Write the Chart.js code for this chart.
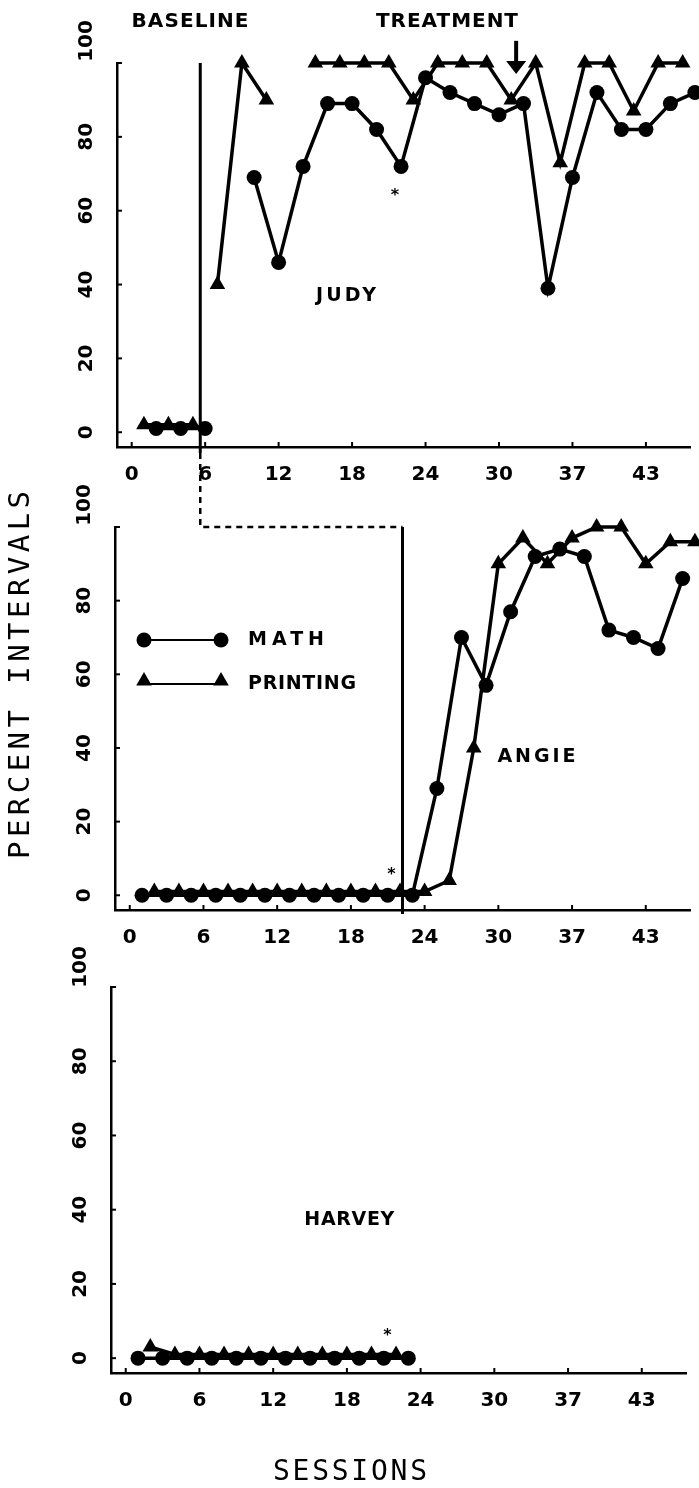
<!DOCTYPE html>
<html><head><meta charset="utf-8">
<script src="https://cdn.jsdelivr.net/npm/chart.js@4"></script>
<style>
html,body{margin:0;padding:0;background:#fff;}
#wrap{position:relative;width:699px;height:1488px;background:#fff;overflow:hidden;}
canvas{position:absolute;left:0;top:0;}
</style></head><body>
<div id="wrap">
<canvas id="c1" width="699" height="1488"></canvas>
<canvas id="c2" width="699" height="1488"></canvas>
<canvas id="c3" width="699" height="1488"></canvas>
</div>
<script>
// ---------- data ----------
const xTickValues = [0, 6, 12, 18, 24, 30, 36, 42];
const xTickLabels = ["0", "6", "12", "18", "24", "30", "37", "43"];
const yTickValues = [0, 20, 40, 60, 80, 100];
const yTickLabels = ["0", "20", "40", "60", "80", "100"];

// JUDY
const judyMathSessions = [2, 4, 6, 8, 10, 12, 14, 16, 18, 20, 22, 24, 26, 28, 30, 32, 34, 36, 38, 40, 42, 44, 46];
const judyMathValues   = [1, 1, 1, null, 69, 46, 72, 89, 89, 82, 72, 96, 92, 89, 86, 89, 39, 69, 92, 82, 82, 89, 92];
const judyPrintSessions = [1, 3, 5, 6, 7, 9, 11, 13, 15, 17, 19, 21, 23, 25, 27, 29, 31, 33, 35, 37, 39, 41, 43, 45];
const judyPrintValues   = [2, 2, 2, null, 40, 100, 90, null, 100, 100, 100, 100, 90, 100, 100, 100, 90, 100, 73, 100, 100, 87, 100, 100];

// ANGIE
const angieMathSessions = [1, 3, 5, 7, 9, 11, 13, 15, 17, 19, 21, 23, 25, 27, 29, 31, 33, 35, 37, 39, 41, 43, 45];
const angieMathValues   = [0, 0, 0, 0, 0, 0, 0, 0, 0, 0, 0, 0, 29, 70, 57, 77, 92, 94, 92, 72, 70, 67, 86];
const angiePrintSessions = [2, 4, 6, 8, 10, 12, 14, 16, 18, 20, 22, 24, 26, 28, 30, 32, 34, 36, 38, 40, 42, 44, 46];
const angiePrintValues   = [1, 1, 1, 1, 1, 1, 1, 1, 1, 1, 1, 1, 4, 40, 90, 97, 90, 97, 100, 100, 90, 96, 96];

// HARVEY
const harveyMathSessions = [1, 3, 5, 7, 9, 11, 13, 15, 17, 19, 21, 23];
const harveyMathValues   = [0, 0, 0, 0, 0, 0, 0, 0, 0, 0, 0, 0];
const harveyPrintSessions = [2, 4, 6, 8, 10, 12, 14, 16, 18, 20, 22];
const harveyPrintValues   = [3, 1, 1, 1, 1, 1, 1, 1, 1, 1, 1];

// phase changes and marks
const judyPhaseSession = 5.6;
const angiePhaseSession = 22.2;
const asteriskJudy = [21.5, 64];
const asteriskAngie = [21.3, 5.5];
const asteriskHarvey = [21.3, 6];
const arrowJudy = [31.4, 106, 97];

// ---------- layout ----------
const W = 699, H = 1488;
const X_MIN = -1.2, X_MAX = 45.6, Y_MIN = -4, Y_MAX = 100;
const panels = [
  {id: 'c1', top: 63, bottom: 447, left: 117, right: 692},
  {id: 'c2', top: 527, bottom: 910, left: 115, right: 690},
  {id: 'c3', top: 987, bottom: 1373, left: 111, right: 686}
];
const TICK_FONT = 'bold 20px "DejaVu Sans"';
const LABEL_FONT = 'bold 19px "DejaVu Sans"';
const TITLE_FONT = 'bold 20px "DejaVu Sans"';

function pts(s, v) { return s.map((x, i) => ({x: x, y: v[i]})); }
function mathDS(s, v) {
  return {label: 'MATH', data: pts(s, v), borderColor: '#000', backgroundColor: '#000',
    borderWidth: 3.5, pointStyle: 'circle', pointRadius: 7.5, pointBorderWidth: 0,
    tension: 0, spanGaps: false, clip: false};
}
function printDS(s, v) {
  return {label: 'PRINTING', data: pts(s, v), borderColor: '#000', backgroundColor: '#000',
    borderWidth: 3.5, pointStyle: 'triangle', pointRadius: 9, pointBorderWidth: 0,
    tension: 0, spanGaps: false, clip: false};
}

function fitText(ctx, text, x, y, targetW, font, anchor, rot) {
  ctx.save();
  ctx.font = font; ctx.fillStyle = '#000'; ctx.textBaseline = 'middle'; ctx.textAlign = 'left';
  const n = text.length;
  const w0 = ctx.measureText(text).width;
  let sp = n > 1 ? (targetW - w0) / (n - 1) : 0;
  ctx.translate(x, y);
  if (rot) ctx.rotate(rot);
  let sx = 1;
  if (sp < 0) { sx = targetW / w0; sp = 0; }
  if ('letterSpacing' in ctx) ctx.letterSpacing = sp + 'px';
  const start = anchor === 'center' ? -targetW / 2 : 0;
  ctx.scale(sx, 1);
  ctx.fillText(text, start / sx, 0);
  ctx.restore();
}

function drawAxesDeco(chart, yShift100) {
  const ctx = chart.ctx, xs = chart.scales.x, ys = chart.scales.y, a = chart.chartArea;
  ctx.save();
  ctx.strokeStyle = '#000'; ctx.lineWidth = 2; ctx.fillStyle = '#000';
  yTickValues.forEach(v => {
    const py = ys.getPixelForValue(v);
    ctx.beginPath(); ctx.moveTo(a.left, py); ctx.lineTo(a.left + 5, py); ctx.stroke();
  });
  xTickValues.forEach(v => {
    const px = xs.getPixelForValue(v);
    ctx.beginPath(); ctx.moveTo(px, a.bottom); ctx.lineTo(px, a.bottom - 5); ctx.stroke();
  });
  ctx.font = TICK_FONT; ctx.textAlign = 'center'; ctx.textBaseline = 'middle';
  xTickValues.forEach((v, i) => {
    ctx.fillText(xTickLabels[i], xs.getPixelForValue(v), a.bottom + 28);
  });
  yTickValues.forEach((v, i) => {
    let py = ys.getPixelForValue(v);
    if (v === 100) py -= yShift100;
    ctx.save();
    ctx.translate(a.left - 30, py);
    ctx.rotate(-Math.PI / 2);
    ctx.fillText(yTickLabels[i], 0, 0);
    ctx.restore();
  });
  ctx.restore();
}

function star(chart, p) {
  const ctx = chart.ctx;
  ctx.save(); ctx.font = 'bold 16px "DejaVu Sans"'; ctx.fillStyle = '#000';
  ctx.textAlign = 'center'; ctx.textBaseline = 'middle';
  ctx.fillText('*', chart.scales.x.getPixelForValue(p[0]), chart.scales.y.getPixelForValue(p[1]));
  ctx.restore();
}

let chart1 = null;

function makeChart(p, datasets, extra) {
  return new Chart(document.getElementById(p.id), {
    type: 'line',
    data: {datasets: datasets},
    options: {
      responsive: false, animation: false, devicePixelRatio: 1,
      layout: {padding: {left: p.left, right: W - p.right, top: p.top, bottom: H - p.bottom}},
      plugins: {legend: {display: false}, tooltip: {enabled: false}, title: {display: false}},
      scales: {
        x: {type: 'linear', min: X_MIN, max: X_MAX,
            grid: {display: false, drawTicks: false}, ticks: {display: false},
            border: {display: true, color: '#000', width: 2.5}},
        y: {type: 'linear', min: Y_MIN, max: Y_MAX,
            grid: {display: false, drawTicks: false}, ticks: {display: false},
            border: {display: true, color: '#000', width: 2.5}}
      }
    },
    plugins: [{id: 'deco', afterDraw(chart) { extra(chart); }}]
  });
}

// ---------- panel 1: JUDY ----------
chart1 = makeChart(panels[0], [mathDS(judyMathSessions, judyMathValues), printDS(judyPrintSessions, judyPrintValues)], chart => {
  const ctx = chart.ctx, xs = chart.scales.x, ys = chart.scales.y, a = chart.chartArea;
  drawAxesDeco(chart, 22);
  const px = xs.getPixelForValue(judyPhaseSession);
  ctx.save(); ctx.strokeStyle = '#000'; ctx.lineWidth = 3;
  ctx.beginPath(); ctx.moveTo(px, ys.getPixelForValue(100)); ctx.lineTo(px, a.bottom + 6); ctx.stroke();
  const ax = xs.getPixelForValue(arrowJudy[0]);
  const ay0 = ys.getPixelForValue(arrowJudy[1]), ay1 = ys.getPixelForValue(arrowJudy[2]);
  ctx.lineWidth = 4;
  ctx.beginPath(); ctx.moveTo(ax, ay0); ctx.lineTo(ax, ay1 - 8); ctx.stroke();
  ctx.fillStyle = '#000';
  ctx.beginPath(); ctx.moveTo(ax - 10, ay1 - 13); ctx.lineTo(ax + 10, ay1 - 13); ctx.lineTo(ax, ay1); ctx.closePath(); ctx.fill();
  ctx.restore();
  star(chart, asteriskJudy);
  fitText(ctx, 'BASELINE', 190, 22, 117, TITLE_FONT, 'center');
  fitText(ctx, 'TREATMENT', 447, 22, 142, TITLE_FONT, 'center');
  fitText(ctx, 'JUDY', xs.getPixelForValue(17.5), ys.getPixelForValue(37), 60, LABEL_FONT, 'center');
  fitText(ctx, 'PERCENT INTERVALS', 21, 675, 368, '29px "DejaVu Sans Mono"', 'center', -Math.PI / 2);
});

// ---------- panel 2: ANGIE ----------
makeChart(panels[1], [mathDS(angieMathSessions, angieMathValues), printDS(angiePrintSessions, angiePrintValues)], chart => {
  const ctx = chart.ctx, xs = chart.scales.x, ys = chart.scales.y, a = chart.chartArea;
  drawAxesDeco(chart, 22);
  const jx = chart1.scales.x.getPixelForValue(judyPhaseSession);
  const top1 = chart1.chartArea.bottom + 6;
  const y100 = ys.getPixelForValue(100);
  const axp = xs.getPixelForValue(angiePhaseSession);
  ctx.save(); ctx.strokeStyle = '#000'; ctx.lineWidth = 2.5;
  ctx.setLineDash([6, 5]);
  ctx.beginPath(); ctx.moveTo(jx, top1); ctx.lineTo(jx, y100); ctx.lineTo(axp, y100); ctx.stroke();
  ctx.setLineDash([]); ctx.lineWidth = 3;
  ctx.beginPath(); ctx.moveTo(axp, y100); ctx.lineTo(axp, a.bottom + 4); ctx.stroke();
  ctx.restore();
  star(chart, asteriskAngie);
  fitText(ctx, 'ANGIE', xs.getPixelForValue(33.1), ys.getPixelForValue(37.4), 78, LABEL_FONT, 'center');
  const lx0 = 144, lx1 = 221, ly0 = 640, ly1 = 684;
  ctx.save(); ctx.strokeStyle = '#000'; ctx.fillStyle = '#000'; ctx.lineWidth = 2;
  ctx.beginPath(); ctx.moveTo(lx0, ly0); ctx.lineTo(lx1, ly0); ctx.stroke();
  ctx.beginPath(); ctx.moveTo(lx0, ly1); ctx.lineTo(lx1, ly1); ctx.stroke();
  const st = {pointStyle: 'circle', radius: 7.5, borderWidth: 0, rotation: 0};
  Chart.helpers.drawPoint(ctx, st, lx0, ly0); Chart.helpers.drawPoint(ctx, st, lx1, ly0);
  const tt = {pointStyle: 'triangle', radius: 9, borderWidth: 0, rotation: 0};
  Chart.helpers.drawPoint(ctx, tt, lx0, ly1 - 3); Chart.helpers.drawPoint(ctx, tt, lx1, ly1 - 3);
  ctx.restore();
  fitText(ctx, 'MATH', 248, ly0, 76, LABEL_FONT, 'left');
  fitText(ctx, 'PRINTING', 248, ly1, 108, LABEL_FONT, 'left');
});

// ---------- panel 3: HARVEY ----------
makeChart(panels[2], [mathDS(harveyMathSessions, harveyMathValues), printDS(harveyPrintSessions, harveyPrintValues)], chart => {
  const ctx = chart.ctx, xs = chart.scales.x, ys = chart.scales.y;
  drawAxesDeco(chart, 20);
  star(chart, asteriskHarvey);
  fitText(ctx, 'HARVEY', xs.getPixelForValue(18.2), ys.getPixelForValue(37.1), 90, LABEL_FONT, 'center');
  fitText(ctx, 'SESSIONS', 350, 1473, 154, '28px "DejaVu Sans Mono"', 'center');
});
</script>
</body></html>
